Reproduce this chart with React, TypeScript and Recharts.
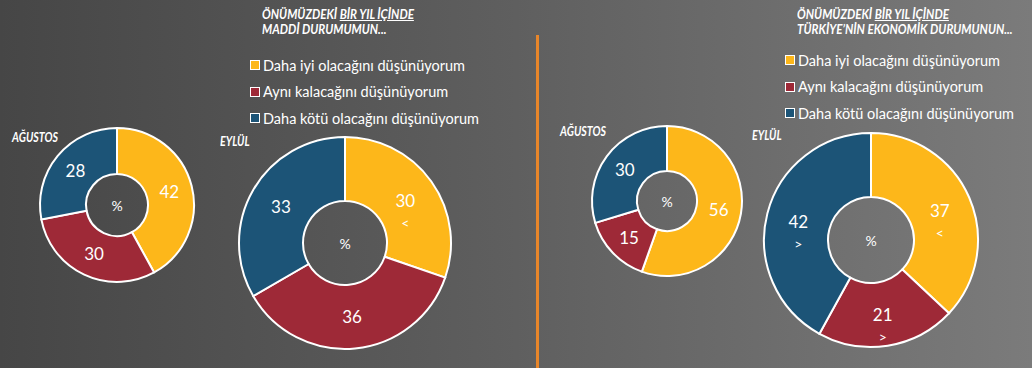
import React from 'react';
import { PieChart, Pie, Cell } from 'recharts';

const categories = [
  'Daha iyi olacağını düşünüyorum',
  'Aynı kalacağını düşünüyorum',
  'Daha kötü olacağını düşünüyorum',
];
const colors = ['#FDB71A', '#9E2937', '#1C5477'];

const maddiAgustos = [42, 30, 28];
const maddiEylul = [30, 36, 33];
const maddiEylulSig = ['<', '', ''];
const ekonomiAgustos = [56, 15, 30];
const ekonomiEylul = [37, 21, 42];
const ekonomiEylulSig = ['<', '>', '>'];
const noSig = ['', '', ''];

const build = (vals: number[], sig: string[]) =>
  vals.map((v, i) => ({ name: categories[i], value: v, sig: sig[i] }));

const RAD = Math.PI / 180;
const FONT = 'Lato, "Open Sans", sans-serif';

const renderLabel = (p: any) => {
  const { cx, cy, midAngle, innerRadius, outerRadius, value, index, payload } = p;
  const r = (innerRadius + outerRadius) / 2;
  const x = cx + r * Math.cos(-midAngle * RAD);
  const y = cy + r * Math.sin(-midAngle * RAD);
  const sig = (payload && payload.sig) || '';
  return (
    <g key={`l${index}`}>
      {index === 0 ? (
        <text x={cx} y={cy} fill="#fff" fontSize={14} fontFamily={FONT} textAnchor="middle" dominantBaseline="central">
          %
        </text>
      ) : null}
      <text x={x} y={y} fill="#fff" fontSize={17} fontFamily={FONT} textAnchor="middle" dominantBaseline="central">
        {value}
      </text>
      {sig ? (
        <text x={x} y={y + 22} fill="#fff" fontSize={14} fontFamily={FONT} textAnchor="middle" dominantBaseline="central">
          {sig}
        </text>
      ) : null}
    </g>
  );
};

const pies = [
  { data: build(maddiAgustos, noSig), cx: 117, cy: 205, ir: 31, or: 77 },
  { data: build(maddiEylul, maddiEylulSig), cx: 345, cy: 243, ir: 42, or: 106 },
  { data: build(ekonomiAgustos, noSig), cx: 667, cy: 201, ir: 30, or: 75 },
  { data: build(ekonomiEylul, ekonomiEylulSig), cx: 871, cy: 240, ir: 43, or: 107 },
];

const titles = [
  { x: 262, y: 7, l2: 'MADDİ DURUMUMUN...' },
  { x: 797, y: 7, l2: 'TÜRKİYE’NİN EKONOMİK DURUMUNUN...' },
];
const legends = [
  { x: 250, y: 52 },
  { x: 785, y: 47 },
];
const months = [
  { x: 12, y: 129, t: 'AĞUSTOS' },
  { x: 220, y: 133, t: 'EYLÜL' },
  { x: 560, y: 123, t: 'AĞUSTOS' },
  { x: 752, y: 127, t: 'EYLÜL' },
];

export default function App() {
  return (
    <div
      style={{
        position: 'absolute',
        left: 0,
        top: 0,
        width: 1032,
        height: 368,
        overflow: 'hidden',
        background: 'linear-gradient(to right, #464646 0%, #5f5f5f 50%, #7b7b7b 100%)',
        fontFamily: FONT,
      }}
    >
      <div style={{ position: 'absolute', left: 536, top: 35, width: 3, height: 340, background: '#E8862A' }} />
      {titles.map((t, i) => (
        <div
          key={i}
          style={{
            position: 'absolute',
            left: t.x,
            top: t.y,
            color: '#fff',
            fontSize: 12.5,
            fontWeight: 700,
            fontStyle: 'italic',
            lineHeight: '15px',
            whiteSpace: 'nowrap',
            transform: 'scaleX(0.93)',
            transformOrigin: 'left top',
          }}
        >
          <div>
            ÖNÜMÜZDEKİ <span style={{ textDecoration: 'underline' }}>BİR YIL İÇİNDE</span>
          </div>
          <div>{t.l2}</div>
        </div>
      ))}
      {legends.map((l, i) => (
        <div key={i} style={{ position: 'absolute', left: l.x, top: l.y }}>
          {categories.map((c, j) => (
            <div key={j} style={{ display: 'flex', alignItems: 'center', height: 26.5, color: '#fff', fontSize: 14.5, whiteSpace: 'nowrap' }}>
              <span
                style={{
                  display: 'inline-block',
                  width: 8,
                  height: 8,
                  background: colors[j],
                  border: '1.5px solid #fff',
                  marginRight: 3,
                }}
              />
              {c}
            </div>
          ))}
        </div>
      ))}
      {months.map((m, i) => (
        <div
          key={i}
          style={{
            position: 'absolute',
            left: m.x,
            top: m.y,
            color: '#fff',
            fontSize: 13,
            fontWeight: 700,
            fontStyle: 'italic',
            whiteSpace: 'nowrap',
            transform: 'scaleX(0.82)',
            transformOrigin: 'left top',
          }}
        >
          {m.t}
        </div>
      ))}
      <div style={{ position: 'absolute', left: 0, top: 0 }}>
        <PieChart width={1032} height={368} margin={{ top: 0, right: 0, bottom: 0, left: 0 }}>
          {pies.map((p, i) => (
            <Pie
              key={i}
              data={p.data}
              dataKey="value"
              cx={p.cx}
              cy={p.cy}
              innerRadius={p.ir}
              outerRadius={p.or}
              startAngle={90}
              endAngle={-270}
              stroke="#fff"
              strokeWidth={2}
              labelLine={false}
              label={renderLabel}
              isAnimationActive={false}
            >
              {p.data.map((d, j) => (
                <Cell key={j} fill={colors[j]} />
              ))}
            </Pie>
          ))}
        </PieChart>
      </div>
    </div>
  );
}
